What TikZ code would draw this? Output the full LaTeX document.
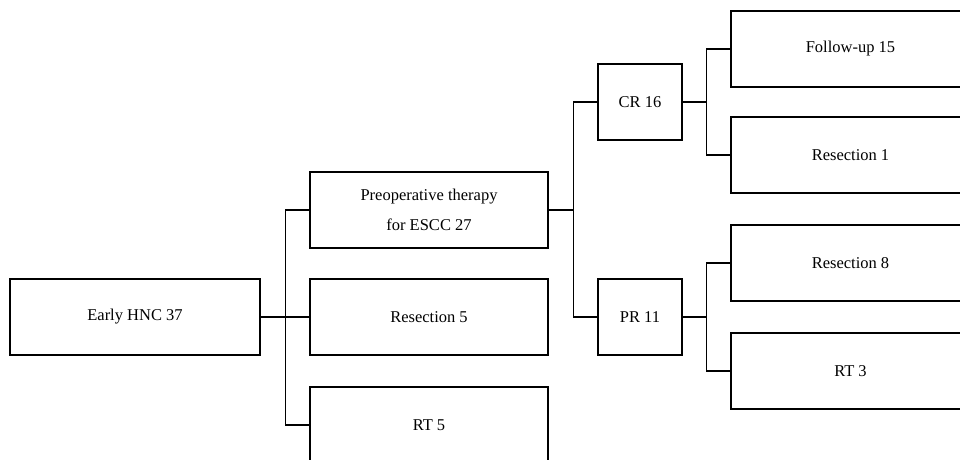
\documentclass[tikz,border=0pt]{standalone}
\usepackage{fontspec}
\setmainfont{Liberation Serif}
\begin{document}
\begin{tikzpicture}[x=1pt,y=-1pt,
  box/.style={draw, line width=1.3pt, rectangle, inner sep=0pt, minimum height=76pt, align=center, font=\fontsize{16.5}{30}\selectfont},
  wide/.style={box, minimum width=238pt},
  narrow/.style={box, minimum width=84pt},
  link/.style={line width=1.3pt}]
\useasboundingbox (0,0) rectangle (960,459);
\clip (0,0) rectangle (960,459);
\node[box, minimum width=250pt] (hnc) at (135,317) {Early HNC 37};
\node[wide] (preop) at (429,210) {Preoperative therapy\\for ESCC 27};
\node[wide] (res5) at (429,317) {Resection 5};
\node[wide] (rt5) at (429,425) {RT 5};
\node[narrow] (cr) at (640,102) {CR 16};
\node[narrow] (pr) at (640,317) {PR 11};
\node[wide, minimum width=239pt] (fu) at (850.5,49) {Follow-up 15};
\node[wide, minimum width=239pt] (res1) at (850.5,155) {Resection 1};
\node[wide, minimum width=239pt] (res8) at (850.5,263) {Resection 8};
\node[wide, minimum width=239pt] (rt3) at (850.5,371) {RT 3};
\draw[link] (hnc.east) -- ++(25,0) |- (preop.west);
\draw[link] (hnc.east) -- ++(25,0) |- (rt5.west);
\draw[link] (hnc.east) -- (res5.west);
\draw[link] (preop.east) -- ++(25,0) |- (cr.west);
\draw[link] (preop.east) -- ++(25,0) |- (pr.west);
\draw[link] (cr.east) -- ++(24,0) |- (fu.west);
\draw[link] (cr.east) -- ++(24,0) |- (res1.west);
\draw[link] (pr.east) -- ++(24,0) |- (res8.west);
\draw[link] (pr.east) -- ++(24,0) |- (rt3.west);
\end{tikzpicture}
\end{document}
